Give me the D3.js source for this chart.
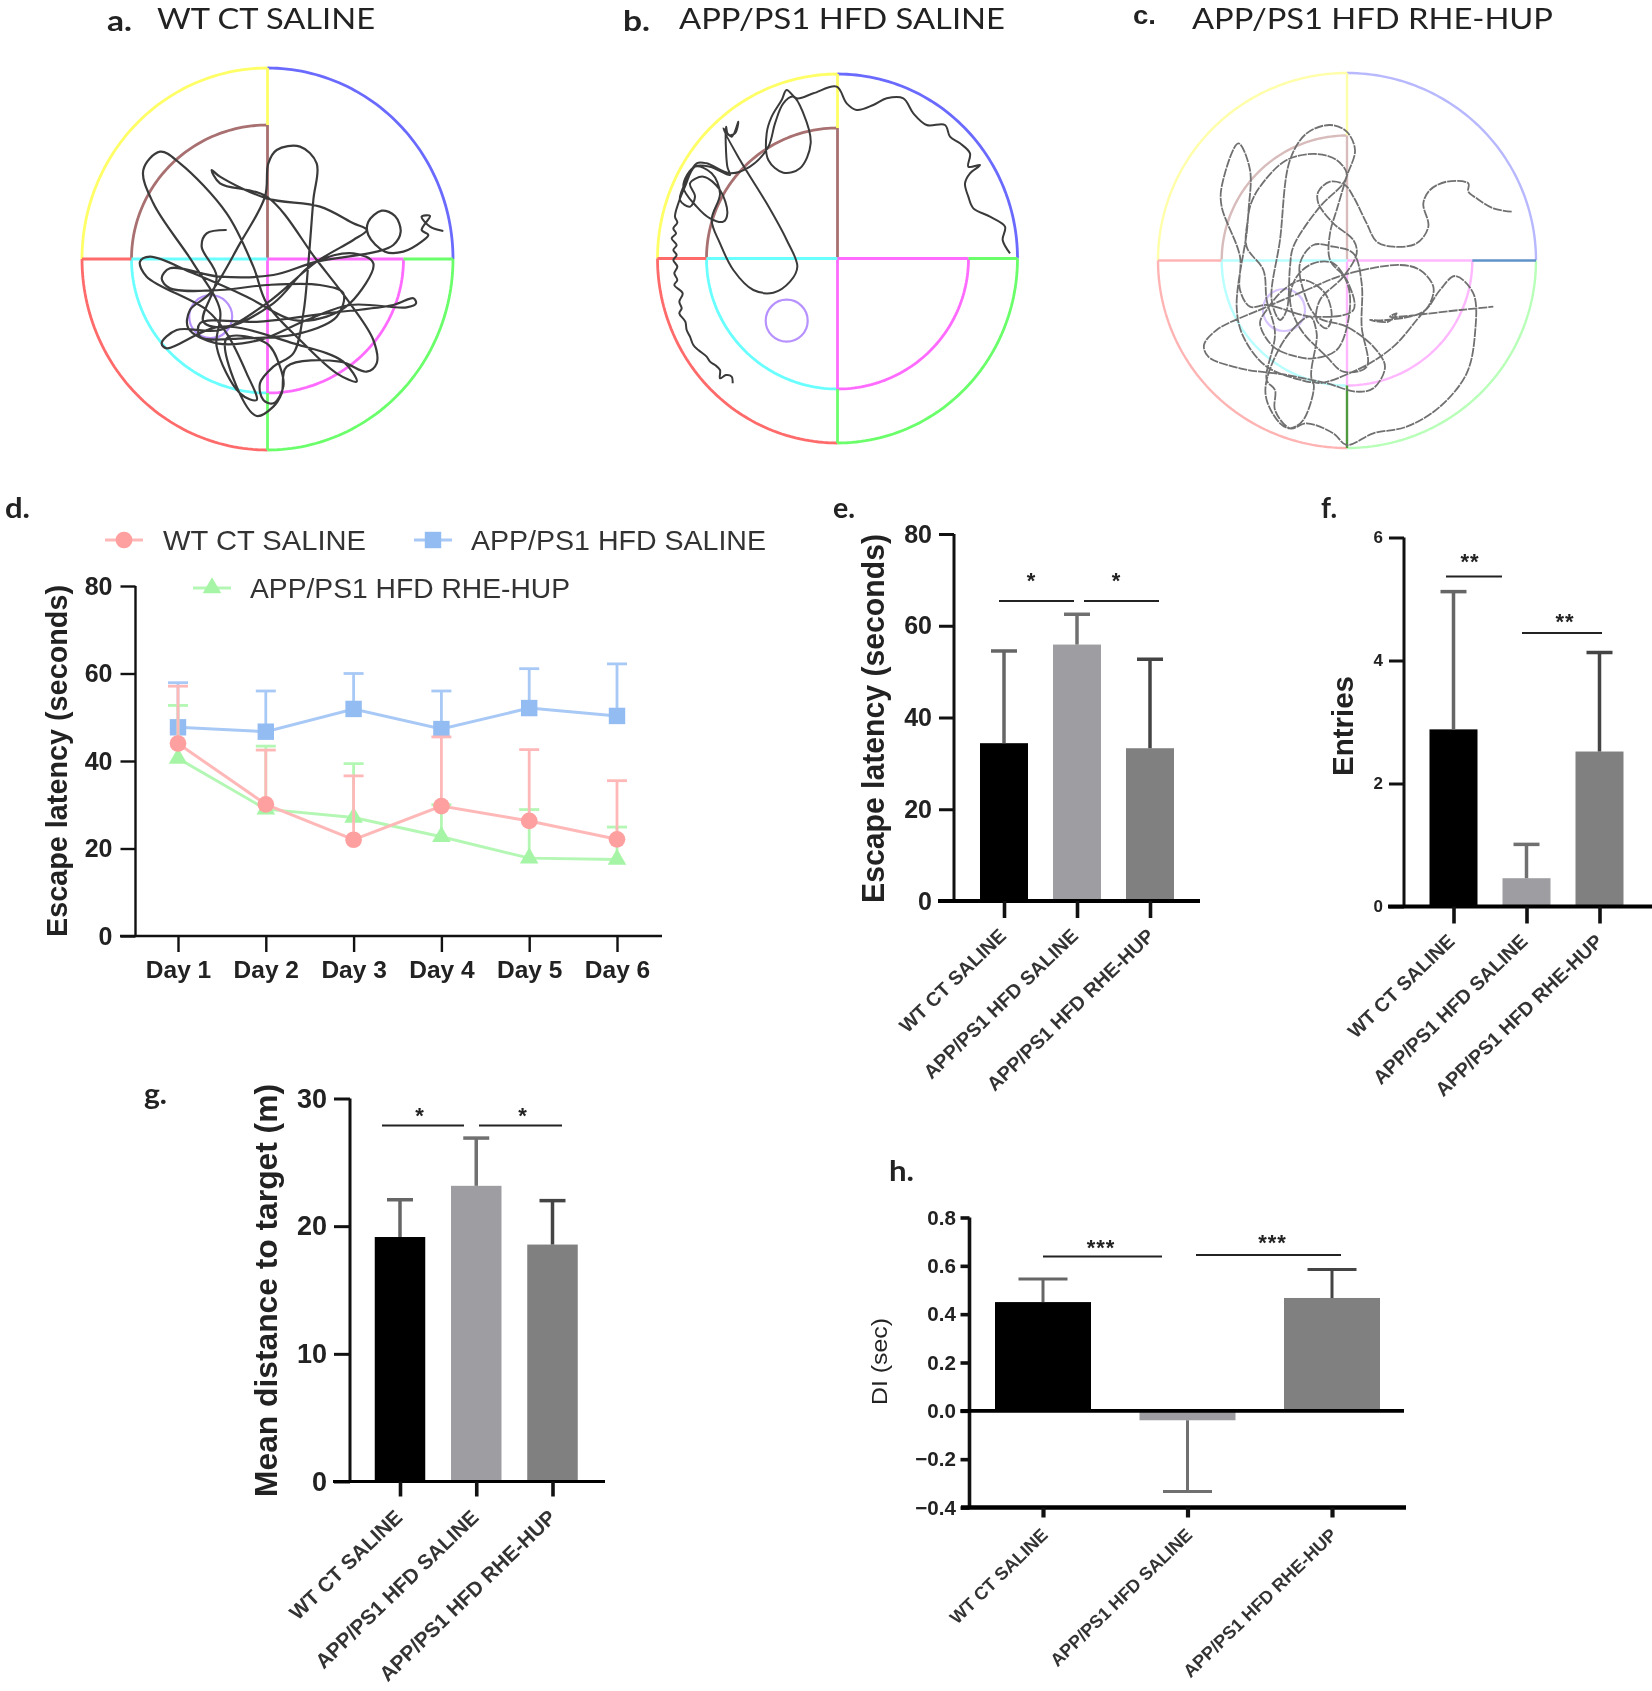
<!DOCTYPE html>
<html><head><meta charset="utf-8">
<script src="https://cdn.jsdelivr.net/npm/d3@7"></script>
<style>html,body{margin:0;padding:0;background:#fff}svg{display:block;filter:blur(.6px)}text{font-family:"Liberation Sans",Arial,sans-serif;fill:#222}</style>
</head><body><svg id="c" width="1652" height="1691"></svg>
<script>
const groups = ["WT CT SALINE","APP/PS1 HFD SALINE","APP/PS1 HFD RHE-HUP"];
const days = ["Day 1","Day 2","Day 3","Day 4","Day 5","Day 6"];
const wtMean = [44.0,30.1,22.0,29.7,26.3,22.1];
const wtUpper = [57.1,42.5,36.6,45.5,42.6,35.5];
const appMean = [47.7,46.7,51.9,47.3,52.1,50.3];
const appUpper = [57.9,56.0,60.0,56.0,61.1,62.2];
const rheMean = [40.6,29.0,27.1,22.7,17.8,17.5];
const rheUpper = [52.7,43.4,39.4,30.0,28.9,24.9];
const eMean = [34.4,55.9,33.3];  const eEnd = [54.5,62.5,52.7];
const fMean = [2.88,0.46,2.52];  const fEnd = [5.12,1.01,4.13];
const gMean = [19.15,23.16,18.56]; const gEnd = [22.07,26.9,22.0];
const hMean = [0.45,-0.039,0.467]; const hEnd = [0.546,-0.334,0.585];
const barColors = ["#000000","#9e9ea2","#808080"];
// swim tracks, in tracking-camera units
const trackA = [[1150,693],[1110,680],[1085,650],[1110,648],[1085,690],[1105,705],[1085,725],[1030,755],[975,755],[925,705],[925,665],[965,632],[1005,648],[1022,695],[1000,735],[950,755],[770,785],[640,825],[480,830],[330,805],[305,835],[330,865],[480,870],[620,855],[780,855],[850,880],[830,950],[720,1000],[550,1015],[420,1010],[420,970],[600,965],[800,940],[1000,915],[1060,895],[1068,910],[1040,922],[870,915],[740,960],[600,1020],[470,1030],[385,985],[390,930],[450,880],[540,730],[615,590],[625,490],[650,450],[720,440],[770,490],[760,600],[745,790],[730,940],[700,1060],[640,1100],[600,1150],[610,1200],[640,1210],[670,1160],[660,1100],[620,1030],[500,1015],[530,1160],[590,1248],[640,1220],[665,1180],[680,1100],[840,1085],[920,1115],[950,1090],[940,1020],[870,910],[770,780],[620,590],[480,550],[455,510],[480,530],[620,595],[780,620],[880,670],[920,690],[880,720],[770,785],[620,910],[480,990],[350,990],[305,1030],[320,1045],[480,980],[700,1030],[850,1085],[890,1145],[830,1120],[720,1020],[620,910],[580,800],[500,640],[360,490],[300,455],[250,510],[280,610],[400,790],[480,930],[470,1040],[540,1180],[590,1200],[560,1120],[500,1000],[440,930],[260,830],[240,785],[270,770],[400,820],[560,890],[700,960],[800,950],[870,910],[940,790],[880,760],[760,790],[640,910],[500,980],[430,965],[470,830],[425,740],[440,700],[500,690]];
const trackB = [[1110,760],[1088,720],[1095,680],[1050,650],[1000,625],[985,590],[975,550],[990,520],[1020,495],[985,500],[990,460],[960,430],[930,410],[915,375],[860,375],[820,340],[790,295],[740,295],[700,315],[650,330],[620,310],[590,260],[520,280],[470,295],[440,270],[425,300],[395,350],[380,400],[385,480],[430,518],[480,505],[512,430],[490,340],[460,290],[430,310],[405,370],[385,440],[330,500],[270,520],[200,490],[170,490],[140,540],[120,600],[150,620],[165,590],[150,550],[190,530],[240,570],[262,640],[250,665],[210,655],[170,620],[130,560],[165,500],[215,520],[240,580],[215,660],[240,730],[280,810],[340,870],[400,878],[450,845],[472,800],[440,720],[380,610],[300,480],[250,385],[275,410],[295,365],[285,400],[265,405],[258,380],[262,500],[270,525],[210,500],[165,500],[135,560],[115,610],[105,650],[112,668],[100,685],[108,700],[95,715],[110,735],[100,750],[110,765],[100,780],[112,800],[103,820],[112,840],[103,855],[128,880],[118,905],[125,925],[118,940],[136,965],[140,990],[150,1010],[160,1035],[175,1050],[200,1070],[210,1085],[225,1095],[240,1110],[240,1135],[258,1125],[275,1130],[278,1150]];
const trackC = [[1115,635],[1060,625],[1010,595],[985,575],[985,550],[920,545],[870,570],[850,610],[865,680],[830,730],[760,740],[710,725],[680,670],[640,590],[615,555],[570,545],[535,575],[535,610],[580,670],[640,720],[650,760],[610,830],[540,900],[530,960],[560,985],[575,950],[555,880],[490,840],[430,870],[380,930],[360,970],[400,1040],[470,1070],[520,1075],[590,1050],[625,960],[625,860],[580,790],[520,790],[470,830],[450,900],[480,985],[560,1070],[610,1115],[680,1100],[665,980],[665,850],[640,760],[580,740],[520,735],[480,790],[490,870],[530,950],[620,980],[700,1040],[735,1100],[700,1165],[650,1175],[560,1150],[440,1125],[300,1105],[205,1070],[192,1035],[230,990],[370,925],[500,870],[610,825],[780,795],[840,810],[880,860],[870,910],[830,960],[760,1040],[650,1110],[520,1145],[530,1000],[510,950],[440,1010],[380,1140],[380,1200],[420,1270],[450,1285],[490,1260],[520,1150],[500,1145],[380,1100],[310,1010],[290,920],[320,700],[330,620],[360,560],[440,480],[530,462],[590,480],[620,520],[610,550],[540,620],[460,740],[450,800],[440,930],[420,960],[395,900],[420,720],[450,480],[500,400],[570,375],[620,395],[645,450],[620,530],[590,630],[570,700],[570,780],[620,840],[640,930],[520,950],[380,915],[330,920],[300,870],[300,770],[245,620],[245,560],[295,430],[330,510],[325,640],[320,740],[370,810],[380,900],[405,1000],[380,1140],[405,1170],[405,1230],[450,1285],[500,1270],[580,1300],[620,1335],[700,1300],[800,1280],[900,1220],[980,1120],[1005,1000],[1000,880],[945,828],[900,870],[850,935],[740,960],[690,960],[745,965],[770,940],[750,950],[960,930],[1060,920]];

const svg = d3.select("#c");
const fit = (s,len)=> s.attr("textLength",len).attr("lengthAdjust","spacingAndGlyphs");

/* ---------- water-maze panels ---------- */
const arc = (cx,cy,rx,ry,a0,a1)=>{
  const pts=d3.range(0,1.0001,1/60).map(t=>{const a=(a0+(a1-a0)*t)*Math.PI/180;return [cx+rx*Math.cos(a),cy+ry*Math.sin(a)];});
  return d3.line()(pts);
};
function maze(p){
  const g=svg.append("g").attr("fill","none").attr("stroke-width",p.sw);
  const seg=(d,c)=>g.append("path").attr("d",d).attr("stroke",c);
  const ln=(x0,y0,x1,y1,c)=>seg(d3.line()([[x0,y0],[x1,y1]]),c);
  const {cx,cy,rx,ry,ix,iy,col:c}=p;
  seg(arc(cx,cy,rx,ry,180,270),c.yellow); seg(arc(cx,cy,rx,ry,270,360),c.blue);
  seg(arc(cx,cy,rx,ry,90,180),c.red); seg(arc(cx,cy,rx,ry,0,90),c.green);
  seg(arc(cx,cy,ix,iy,180,270),c.brown); seg(arc(cx,cy,ix,iy,90,180),c.cyan); seg(arc(cx,cy,ix,iy,0,90),c.magenta);
  ln(cx,cy-ry,cx,cy-iy,c.yellow); ln(cx,cy-iy,cx,cy,c.brown); ln(cx,cy,cx,cy+iy,c.magenta); ln(cx,cy+iy,cx,cy+ry,c.vert);
  ln(cx-rx,cy,cx-ix,cy,c.red); ln(cx-ix,cy,cx,cy,c.cyan); ln(cx,cy,cx+ix,cy,c.magenta); ln(cx+ix,cy,cx+rx,cy,c.horiz);
  g.append("ellipse").attr("cx",p.tx).attr("cy",p.ty).attr("rx",p.tr).attr("ry",p.tr).attr("stroke",c.target).attr("stroke-width",2.2);
  const sx=d3.scaleLinear().domain([0,1260]).range([p.ox,p.ox+420]);
  const sy=d3.scaleLinear().domain([0,1380]).range([0,460]);
  const line=d3.line().x(d=>sx(d[0])).y(d=>sy(d[1])).curve(d3.curveCatmullRom.alpha(.5));
  svg.append("path").attr("d",line(p.track)).attr("fill","none").attr("stroke",p.trackColor).attr("stroke-width",p.tw).attr("stroke-linejoin","round").attr("stroke-dasharray",p.dash||null);
}
const vivid={yellow:"#ffff66",blue:"#6a6aff",red:"#ff6a6a",green:"#6aff6a",vert:"#6aff6a",horiz:"#6aff6a",brown:"#a87070",cyan:"#6affff",magenta:"#ff6aff",target:"#b792ff"};
const pale={yellow:"#ffffaa",blue:"#b8b8ff",red:"#ffb4b4",green:"#b8ffb8",vert:"#4f9a3f",horiz:"#5f92c8",brown:"#d8bcbc",cyan:"#b8ffff",magenta:"#ffb8ff",target:"#d8c4ff"};
maze({ox:60,cx:267.5,cy:259,rx:185.5,ry:191,ix:136,iy:134,tx:210.7,ty:316.7,tr:21.5,sw:2.8,col:vivid,track:trackA,trackColor:"#3a3a3a",tw:2.2});
maze({ox:640,cx:837.5,cy:258.5,rx:180,ry:184.5,ix:131,iy:130.5,tx:786.7,ty:320.7,tr:21,sw:2.8,col:vivid,track:trackB,trackColor:"#3a3a3a",tw:2});
maze({ox:1140,cx:1347,cy:260.5,rx:189,ry:187.5,ix:125.3,iy:125,tx:1284,ty:310,tr:21,sw:2.4,col:pale,track:trackC,trackColor:"#707070",tw:1.8,dash:"9 1"});

/* ---------- titles and panel letters ---------- */
const head=(t,x,y,len)=>fit(svg.append("text").attr("x",x).attr("y",y).attr("font-size",28.5).style("font-family","Lato").text(t),len);
head("WT CT SALINE",157,29,218);
head("APP/PS1  HFD SALINE",679,29,326);
head("APP/PS1  HFD RHE-HUP",1192,29,361);
const letter=(t,x,y,len)=>fit(svg.append("text").attr("x",x).attr("y",y).attr("font-size",28.5).attr("font-weight",700).style("font-family","Lato").text(t),len);
letter("a.",107,31,25);letter("b.",623,31,27);
fit(svg.append("text").attr("x",1133).attr("y",24).attr("font-size",26).attr("font-weight",700).text("c."),23);
letter("d.",5,518,25);letter("e.",833,518,22);letter("f.",1321,518,16);letter("g.",144,1104,23);letter("h.",889,1181,25);

/* ---------- bar panels ---------- */
function barPanel(p){
  const y=d3.scaleLinear().domain(p.domain).range([p.y0,p.y1]);
  const x=d3.scalePoint().domain(groups).range([p.c0,p.c2]);
  const g=svg.append("g");
  g.selectAll("rect.b").data(p.mean).join("rect")
    .attr("x",(d,i)=>x(groups[i])-p.bw/2).attr("width",p.bw)
    .attr("y",d=>Math.min(y(d),y(0))).attr("height",d=>Math.abs(y(d)-y(0)))
    .attr("fill",(d,i)=>barColors[i]);
  g.selectAll("line.s").data(p.end).join("line")
    .attr("x1",(d,i)=>x(groups[i])).attr("x2",(d,i)=>x(groups[i]))
    .attr("y1",(d,i)=>y(p.mean[i])).attr("y2",d=>y(d))
    .attr("stroke",(d,i)=>["#666","#707070","#444"][i]).attr("stroke-width",p.ew);
  g.selectAll("line.c").data(p.end).join("line")
    .attr("x1",(d,i)=>x(groups[i])-p.cap).attr("x2",(d,i)=>x(groups[i])+p.cap)
    .attr("y1",d=>y(d)).attr("y2",d=>y(d))
    .attr("stroke",(d,i)=>["#666","#707070","#444"][i]).attr("stroke-width",p.ew);
  const ya=g.append("g").attr("transform",`translate(${p.ax},0)`)
    .call(d3.axisLeft(y).tickValues(p.ticks).tickFormat(p.fmt).tickSize(p.tl).tickPadding(p.tp));
  ya.selectAll("path,line").attr("stroke","#111").attr("stroke-width",p.aw);
  ya.select("path").attr("d",`M0,${y(p.domain[1])}V${y(p.domain[0])}`);
  ya.selectAll("text").attr("font-size",p.tfs).attr("font-weight",700).style("fill","#222");
  const xa=g.append("g").attr("transform",`translate(0,${p.y0})`)
    .call(d3.axisBottom(x).tickSize(p.xtl));
  xa.select("path").attr("d",`M${p.x0},0H${p.x1}`).attr("stroke","#000").attr("stroke-width",p.xw);
  xa.selectAll("line").attr("stroke","#111").attr("stroke-width",p.aw+.6);
  const shift=p.ldxs||[p.ldx,p.ldx,p.ldx];
  xa.selectAll("text").attr("y",0).attr("dy",".36em").attr("text-anchor","end")
    .attr("transform",(d,i)=>`translate(${shift[i]},${p.ldy}) rotate(-44)`)
    .attr("font-size",p.lfs).attr("font-weight",700).style("fill","#333");
  if(p.zero){
    g.append("line").attr("x1",p.ax-9).attr("x2",p.x1-2).attr("y1",y(0)).attr("y2",y(0)).attr("stroke","#000").attr("stroke-width",3.8);
  }
  const [tx,ty0,ty1]=p.title;
  fit(g.append("text").attr("transform",`translate(${tx},${(ty0+ty1)/2}) rotate(-90)`)
    .attr("text-anchor","middle").attr("dominant-baseline","central")
    .attr("font-size",p.titleFs).attr("font-weight",p.titleW||700).style("fill","#222").text(p.titleText),ty1-ty0);
  p.sig.forEach(s=>{
    g.append("line").attr("x1",s.x0).attr("x2",s.x1).attr("y1",s.y).attr("y2",s.y).attr("stroke","#222").attr("stroke-width",2.2);
    g.append("text").attr("x",s.sx).attr("y",s.sy+8).attr("text-anchor","middle").attr("font-size",22).attr("font-weight",700).style("fill","#222").attr("letter-spacing",1).text(s.t);
  });
}
barPanel({mean:eMean,end:eEnd,domain:[0,80],ticks:[0,20,40,60,80],fmt:d3.format("d"),y0:901,y1:534,c0:1004,c2:1150,bw:48,ew:3.5,cap:13,
  ax:954,aw:3,tl:15,tp:7,tfs:25,x0:938,x1:1200,xw:4,xtl:17,ldxs:[-2,-3,0],ldy:31,lfs:19.6,
  title:[873,534,903],titleFs:31,titleText:"Escape latency (seconds)",
  sig:[{x0:999,x1:1074,y:601,sx:1031.5,sy:580,t:"*"},{x0:1084,x1:1159,y:601,sx:1116.5,sy:580,t:"*"}]});
barPanel({mean:fMean,end:fEnd,domain:[0,6],ticks:[0,2,4,6],fmt:d3.format("d"),y0:906.5,y1:537.5,c0:1453.5,c2:1599.5,bw:48,ew:3.5,cap:13,
  ax:1404,aw:3,tl:15,tp:6,tfs:17,x0:1388,x1:1652,xw:4,xtl:17,ldxs:[-3,-3,-1],ldy:31,lfs:19.6,
  title:[1342,676,776],titleFs:30,titleText:"Entries",
  sig:[{x0:1446,x1:1502,y:576.5,sx:1470,sy:561,t:"**"},{x0:1522,x1:1602,y:633,sx:1565,sy:621,t:"**"}]});
barPanel({mean:gMean,end:gEnd,domain:[0,30],ticks:[0,10,20,30],fmt:d3.format("d"),y0:1481.5,y1:1098.5,c0:400,c2:552.5,bw:50.5,ew:3.5,cap:13,
  ax:350,aw:3,tl:16,tp:7,tfs:27,x0:333,x1:605,xw:3,xtl:15,ldxs:[-2,-2,-1],ldy:32,lfs:20.7,
  title:[266,1084,1497],titleFs:32,titleText:"Mean distance to target (m)",
  sig:[{x0:382,x1:464,y:1125.5,sx:420,sy:1115,t:"*"},{x0:479,x1:562,y:1125.5,sx:523,sy:1115,t:"*"}]});
barPanel({mean:hMean,end:hEnd,domain:[-0.4,0.8],ticks:[-0.4,-0.2,0,0.2,0.4,0.6,0.8],fmt:d3.format(".1f"),y0:1507.5,y1:1217.5,c0:1043,c2:1332,bw:96,ew:3,cap:24.5,
  ax:969.5,aw:3.6,tl:9,tp:4.5,tfs:20.6,x0:961,x1:1406,xw:4.5,xtl:10,ldx:1,ldy:24,lfs:18,zero:true,
  title:[879,1318,1405],titleFs:22,titleW:400,titleText:"DI (sec)",
  sig:[{x0:1043,x1:1162,y:1256.5,sx:1101,sy:1246.5,t:"***"},{x0:1196,x1:1341,y:1255,sx:1272.5,sy:1242,t:"***"}]});

/* ---------- line panel d ---------- */
(function(){
  const x=d3.scalePoint().domain(days).range([178,617]);
  const y=d3.scaleLinear().domain([0,80]).range([936,586]);
  const g=svg.append("g");
  const ya=g.append("g").attr("transform","translate(135.5,0)").call(d3.axisLeft(y).tickValues([0,20,40,60,80]).tickFormat(d3.format("d")).tickSize(15).tickPadding(8));
  ya.selectAll("path,line").attr("stroke","#111").attr("stroke-width",2.4);
  ya.select("path").attr("d","M0,586V936");
  ya.selectAll("text").attr("font-size",25).attr("font-weight",700).style("fill","#222");
  const xa=g.append("g").attr("transform","translate(0,936)").call(d3.axisBottom(x).tickSize(16).tickPadding(9));
  xa.select("path").attr("d","M120,0H662").attr("stroke","#111").attr("stroke-width",2.6);
  xa.selectAll("line").attr("stroke","#111").attr("stroke-width",2.4);
  xa.selectAll("text").attr("font-size",24.5).attr("font-weight",700).style("fill","#222");
  fit(g.append("text").attr("transform",`translate(57,761) rotate(-90)`).attr("text-anchor","middle").attr("dominant-baseline","central")
    .attr("font-size",29).attr("font-weight",700).text("Escape latency (seconds)"),352);
  const series=[
    {mean:appMean,up:appUpper,line:"#a8c9f5",mk:"#93bdf2",sym:d3.symbolSquare,size:270},
    {mean:rheMean,up:rheUpper,line:"#b4f7b4",mk:"#a6f5a6",sym:d3.symbolTriangle,size:150},
    {mean:wtMean,up:wtUpper,line:"#ffb8b8",mk:"#ffa0a0",sym:d3.symbolCircle,size:220}];
  const L=d3.line().x((d,i)=>x(days[i])).y(d=>y(d));
  series.forEach(s=>{
    g.selectAll(null).data(s.up).join("line").attr("x1",(d,i)=>x(days[i])).attr("x2",(d,i)=>x(days[i])).attr("y1",(d,i)=>y(s.mean[i])).attr("y2",d=>y(d)).attr("stroke",s.line).attr("stroke-width",2.8);
    g.selectAll(null).data(s.up).join("line").attr("x1",(d,i)=>x(days[i])-10).attr("x2",(d,i)=>x(days[i])+10).attr("y1",d=>y(d)).attr("y2",d=>y(d)).attr("stroke",s.line).attr("stroke-width",2.8);
    g.append("path").attr("d",L(s.mean)).attr("fill","none").attr("stroke",s.line).attr("stroke-width",3);
    g.selectAll(null).data(s.mean).join("path").attr("d",d3.symbol(s.sym,s.size)).attr("transform",(d,i)=>`translate(${x(days[i])},${y(d)})`).attr("fill",s.mk);
  });
  const legend=[[105,143,540,163,203],[414,452,540,471,295],[193,231,588,250,320]];
  const order=[series[2],series[0],series[1]];
  legend.forEach((l,i)=>{
    g.append("line").attr("x1",l[0]).attr("x2",l[1]).attr("y1",l[2]).attr("y2",l[2]).attr("stroke",order[i].line).attr("stroke-width",3);
    g.append("path").attr("d",d3.symbol(order[i].sym,order[i].size)).attr("transform",`translate(${(l[0]+l[1])/2},${l[2]})`).attr("fill",order[i].mk);
    fit(g.append("text").attr("x",l[3]).attr("y",l[2]+10).attr("font-size",28).style("fill","#333").text(groups[i]),l[4]);
  });
})();
</script></body></html>
